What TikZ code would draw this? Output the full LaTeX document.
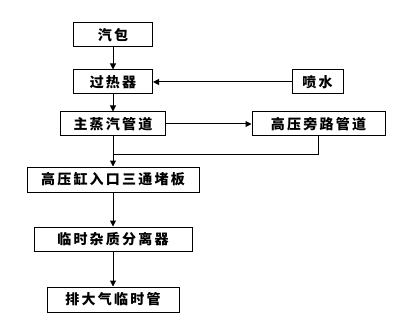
\documentclass[tikz,border=0pt]{standalone}
\usepackage{fontspec}
\usetikzlibrary{arrows.meta}
\newfontfamily\cjk[LetterSpace=16]{Noto Sans CJK SC}
\begin{document}
\begin{tikzpicture}[x=0.75pt,y=-0.75pt,
  box/.style={draw,line width=0.75pt,inner sep=0pt,minimum height=18pt,font=\cjk\bfseries\fontsize{10.5pt}{12pt}\selectfont},
  arr/.style={line width=0.75pt,-{Triangle[width=4.5pt,length=4.5pt]}},
  ln/.style={line width=0.75pt}]
\useasboundingbox (0,0) rectangle (398,331);
\node[box,minimum width=59.25pt] (qb) at (113,35) {汽包};
\node[box,minimum width=59.25pt] (grq) at (113,82) {过热器};
\node[box,minimum width=38.25pt] (ps) at (317.5,82) {喷水};
\node[box,minimum width=78.75pt] (zq) at (113,124) {主蒸汽管道};
\node[box,minimum width=99.75pt] (hp) at (318.5,124) {高压旁路管道};
\node[box,minimum width=129pt,minimum height=18.75pt] (gy) at (113,179.5) {高压缸入口三通堵板};
\node[box,minimum width=118.5pt] (fl) at (113,239) {临时杂质分离器};
\node[box,minimum width=99pt,minimum height=18.75pt] (pd) at (113,299.5) {排大气临时管};
\coordinate (j) at (113,154);
\draw[arr] (qb) -- (grq);
\draw[arr] (ps) -- (grq);
\draw[arr] (grq) -- (zq);
\draw[arr] (zq) -- (hp);
\draw[ln] (hp.south) |- (j);
\draw[arr] (zq) -- (gy);
\draw[arr] (gy) -- (fl);
\draw[arr] (fl) -- (pd);
\end{tikzpicture}
\end{document}
